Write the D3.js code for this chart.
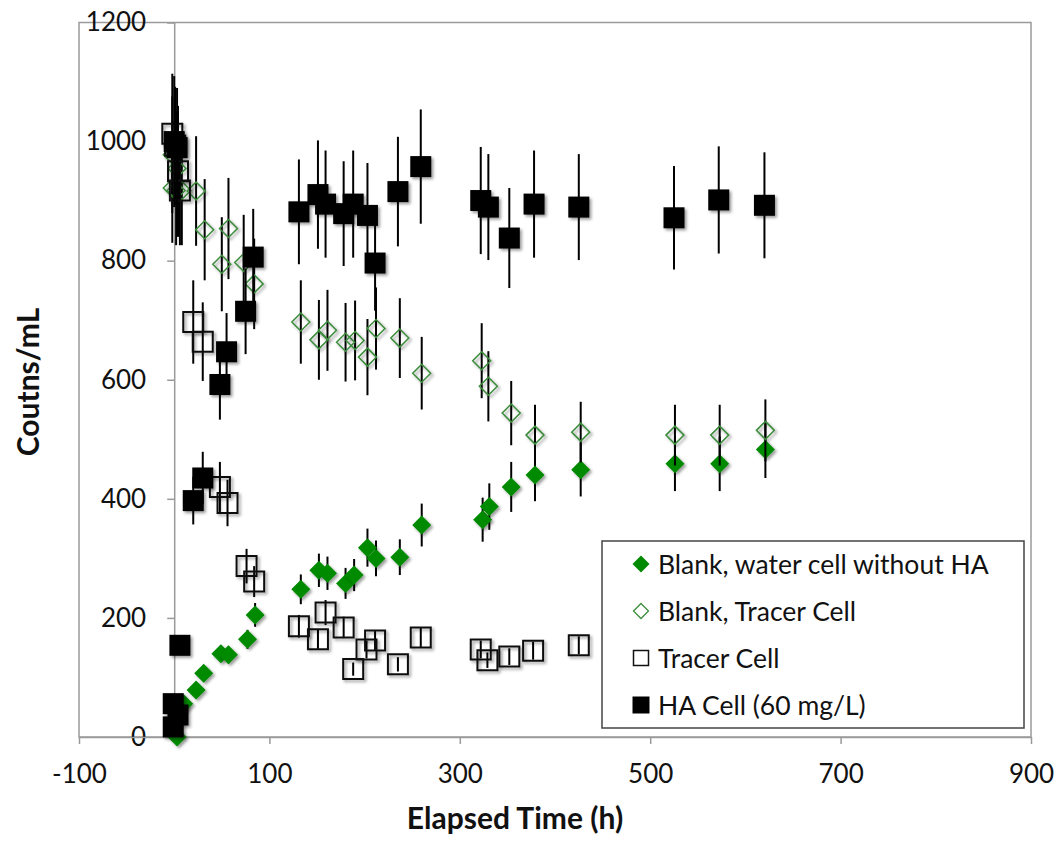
<!DOCTYPE html>
<html>
<head>
<meta charset="utf-8">
<script src="https://cdn.jsdelivr.net/npm/d3@7"></script>
<style>
  body { margin: 0; background: #fff; }
  text { font-family: Lato, "Open Sans", sans-serif; fill: #111; }
</style>
</head>
<body>
<div id="chart"></div>
<script>
// Blank, water cell without HA (filled green diamonds)
const blankWaterTime = [3, 10, 23, 31, 49, 57, 77, 85, 133, 152, 161, 180, 189, 203, 212, 237, 260, 324, 331, 354, 379, 427, 526, 573, 621];
const blankWaterCounts = [0, 56, 79, 107, 140, 138, 164, 205, 248, 280, 275, 258, 272, 318, 300, 302, 356, 365, 387, 420, 440, 449, 459, 459, 483];
const blankWaterErr = [0, 6, 8, 11, 14, 14, 16, 20, 25, 28, 28, 26, 27, 32, 30, 30, 36, 37, 39, 42, 44, 45, 46, 46, 48];

// Blank, Tracer Cell (open green diamonds)
const blankTracerTime = [-2, 3, -2, 2, 8, 23, 32, 50, 57, 73, 84, 133, 152, 161, 180, 190, 203, 212, 237, 260, 323, 330, 354, 379, 427, 526, 573, 621];
const blankTracerCounts = [978, 955, 922, 918, 918, 917, 852, 794, 854, 797, 761, 697, 667, 683, 663, 666, 638, 686, 670, 611, 632, 589, 544, 507, 512, 507, 507, 515];
const blankTracerErr = [98, 96, 92, 92, 92, 92, 85, 79, 85, 80, 76, 70, 67, 68, 66, 67, 64, 69, 67, 61, 63, 59, 54, 51, 51, 51, 51, 52];

// Tracer Cell (open black squares)
const tracerTime = [-2, 1, 4, 6, 20, 30, 48, 56, 76, 84, 131, 151, 159, 178, 188, 202, 211, 235, 259, 322, 329, 352, 377, 425];
const tracerCounts = [1013, 993, 950, 918, 697, 664, 420, 393, 287, 261, 186, 164, 209, 184, 114, 147, 162, 122, 167, 147, 129, 135, 145, 154];
const tracerErr = [101, 99, 110, 92, 70, 66, 42, 39, 29, 26, 19, 16, 21, 18, 11, 15, 16, 12, 17, 15, 13, 14, 15, 15];

// HA Cell (60 mg/L) (filled black squares)
const haTime = [-1, -1, 0, 3, 4, 6, 20, 30, 48, 55, 75, 83, 131, 151, 159, 178, 188, 203, 211, 235, 259, 322, 330, 352, 378, 425, 525, 572, 620];
const haCounts = [17, 56, 1000, 990, 37, 154, 397, 435, 592, 647, 715, 806, 882, 911, 895, 879, 895, 876, 796, 916, 958, 901, 890, 838, 895, 890, 872, 902, 893];
const haErr = [2, 6, 110, 100, 4, 15, 40, 44, 59, 65, 72, 81, 88, 91, 90, 88, 90, 88, 80, 92, 96, 90, 89, 84, 90, 89, 87, 90, 89];

const xTicks = [-100, 100, 300, 500, 700, 900];
const yTicks = [0, 200, 400, 600, 800, 1000, 1200];
const legendLabels = ["Blank, water cell without HA", "Blank, Tracer Cell", "Tracer Cell", "HA Cell (60 mg/L)"];

const width = 1059, height = 844;
const plot = { left: 79, right: 1031, top: 22.5, bottom: 737 };
const green = "#008a00";
const axisColor = "#9a9a9a";

const svg = d3.select("#chart").append("svg")
    .attr("width", width)
    .attr("height", height);

// soft marker shadow, like the spreadsheet default
const filter = svg.append("defs").append("filter")
    .attr("id", "shadow")
    .attr("x", "-50%").attr("y", "-50%")
    .attr("width", "200%").attr("height", "200%");
filter.append("feDropShadow")
    .attr("dx", 2).attr("dy", 2)
    .attr("stdDeviation", 1.6)
    .attr("flood-color", "#000")
    .attr("flood-opacity", 0.4);

const x = d3.scaleLinear().domain([-100, 900]).range([plot.left, plot.right]);
const y = d3.scaleLinear().domain([0, 1200]).range([plot.bottom, plot.top]);

// plot frame
svg.append("rect")
    .attr("x", plot.left)
    .attr("y", plot.top)
    .attr("width", plot.right - plot.left)
    .attr("height", plot.bottom - plot.top)
    .attr("fill", "none")
    .attr("stroke", axisColor)
    .attr("stroke-width", 1.5);

// y axis crosses at x = 0
const yAxis = svg.append("g")
    .attr("transform", `translate(${x(0)},0)`)
    .call(d3.axisLeft(y).tickValues(yTicks).tickSize(7).tickSizeOuter(0).tickPadding(21)
        .tickFormat(d => String(d)));

// x axis at y = 0
const xAxis = svg.append("g")
    .attr("transform", `translate(0,${y(0)})`)
    .call(d3.axisBottom(x).tickValues(xTicks).tickSize(7).tickSizeOuter(0).tickPadding(21)
        .tickFormat(d => String(d)));

[xAxis, yAxis].forEach(g => {
    g.select(".domain").attr("stroke", axisColor).attr("stroke-width", 1.5);
    g.selectAll(".tick line").attr("stroke", axisColor).attr("stroke-width", 1.5);
    g.selectAll(".tick text")
        .style("font-family", "Lato, 'Open Sans', sans-serif")
        .style("font-size", "26px")
        .attr("fill", "#111");
});

// axis titles
svg.append("text")
    .attr("x", (plot.left + plot.right) / 2 - 40)
    .attr("y", 829)
    .attr("text-anchor", "middle")
    .style("font-size", "30px")
    .style("font-weight", "bold")
    .text("Elapsed Time (h)");

svg.append("text")
    .attr("transform", `translate(39, 382) rotate(-90)`)
    .attr("text-anchor", "middle")
    .style("font-size", "30px")
    .style("font-weight", "bold")
    .text("Coutns/mL");

// marker shapes
function diamond(r) {
    return `M0,${-r}L${r},0L0,${r}L${-r},0Z`;
}
function square(s) {
    const h = s / 2;
    return `M${-h},${-h}H${h}V${h}H${-h}Z`;
}

const series = [
    { time: blankWaterTime, counts: blankWaterCounts, err: blankWaterErr, path: diamond(9.5), fill: green, stroke: "none", sw: 0 },
    { time: blankTracerTime, counts: blankTracerCounts, err: blankTracerErr, path: diamond(9), fill: "none", stroke: "#3c8c3c", sw: 1.5 },
    { time: tracerTime, counts: tracerCounts, err: tracerErr, path: square(20), fill: "none", stroke: "#111", sw: 2 },
    { time: haTime, counts: haCounts, err: haErr, path: square(21), fill: "#000", stroke: "none", sw: 0 }
];

series.forEach((s, i) => {
    const pts = s.time.map((t, j) => ({ t: t, c: s.counts[j], e: s.err[j] }));
    const g = svg.append("g").attr("class", "series-" + i);

    // error bars, no caps
    g.selectAll(".err")
        .data(pts)
        .enter()
        .append("line")
        .attr("x1", d => x(d.t))
        .attr("x2", d => x(d.t))
        .attr("y1", d => y(d.c + d.e))
        .attr("y2", d => y(Math.max(0, d.c - d.e)))
        .attr("stroke", "#000")
        .attr("stroke-width", 2);

    g.selectAll(".marker")
        .data(pts)
        .enter()
        .append("path")
        .attr("transform", d => `translate(${x(d.t)},${y(d.c)})`)
        .attr("d", s.path)
        .attr("fill", s.fill)
        .attr("stroke", s.stroke)
        .attr("stroke-width", s.sw)
        .attr("filter", "url(#shadow)");
});

// legend
const legend = svg.append("g");
legend.append("rect")
    .attr("x", 602)
    .attr("y", 541)
    .attr("width", 422)
    .attr("height", 187)
    .attr("fill", "#fff")
    .attr("stroke", "#444")
    .attr("stroke-width", 1.5);

const legendMarks = [
    { path: diamond(8.5), fill: green, stroke: "none", sw: 0 },
    { path: diamond(7.5), fill: "none", stroke: "#3c8c3c", sw: 1.3 },
    { path: square(15), fill: "none", stroke: "#111", sw: 1.5 },
    { path: square(17), fill: "#000", stroke: "none", sw: 0 }
];

legendLabels.forEach((label, i) => {
    const cy = 564 + i * 47;
    legend.append("path")
        .attr("transform", `translate(641,${cy})`)
        .attr("d", legendMarks[i].path)
        .attr("fill", legendMarks[i].fill)
        .attr("stroke", legendMarks[i].stroke)
        .attr("stroke-width", legendMarks[i].sw);
    legend.append("text")
        .attr("x", 658)
        .attr("y", cy)
        .attr("dy", "0.36em")
        .style("font-size", "26.5px")
        .text(label);
});
</script>
</body>
</html>
